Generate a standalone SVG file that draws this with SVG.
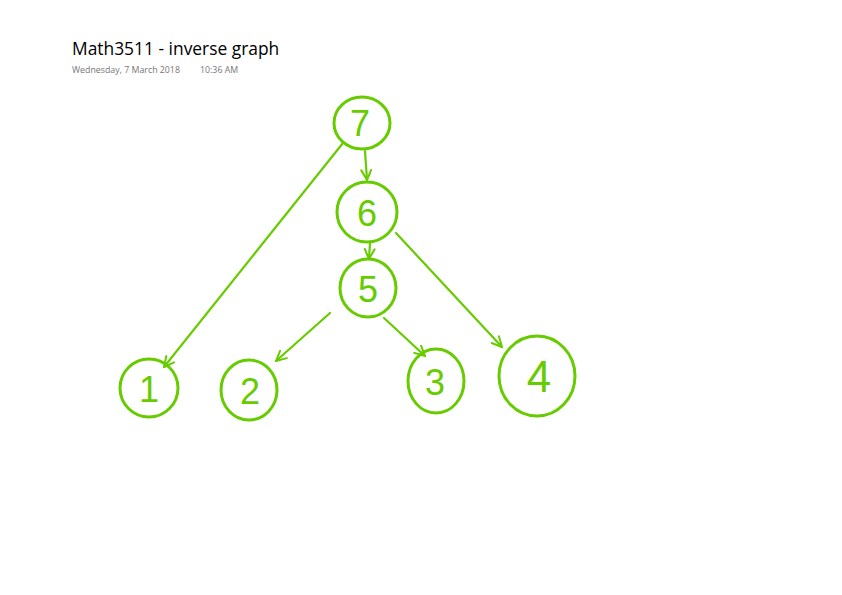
<svg xmlns="http://www.w3.org/2000/svg" width="842" height="595" viewBox="0 0 842 595">
<defs>
<style>
.ink{fill:none;stroke:#66cc00;stroke-width:3;stroke-linecap:round;stroke-linejoin:round}
.edge{fill:none;stroke:#66cc00;stroke-width:2.2;stroke-linecap:round}
.lbl{fill:#66cc00;font-family:"Liberation Sans","DejaVu Sans",sans-serif;font-size:36px;text-anchor:middle;font-weight:normal}
.title{font-family:"Open Sans","Liberation Sans",sans-serif;font-size:17.4px;fill:#000}
.meta{font-family:"Open Sans","Liberation Sans",sans-serif;font-size:8.8px;fill:#767676}
</style>
<marker id="arr" viewBox="0 0 12 12" refX="11" refY="6" markerWidth="12" markerHeight="12" markerUnits="userSpaceOnUse" orient="auto">
<path d="M1,1 L11,6 L1,11" fill="none" stroke="#66cc00" stroke-width="2" stroke-linecap="round" stroke-linejoin="round"/>
</marker>
</defs>
<rect width="842" height="595" fill="#fff"/>
<text class="title" x="72" y="55">Math3511 - inverse graph</text>
<text class="meta" x="72" y="73">Wednesday, 7 March 2018</text>
<text class="meta" x="200" y="73">10:36 AM</text>
<g id="connectors">
<path class="edge" d="M365,151 L367,180" marker-end="url(#arr)"/>
<path class="edge" d="M343,143 L164,367" marker-end="url(#arr)"/>
<path class="edge" d="M370,243 L369,259" marker-end="url(#arr)"/>
<path class="edge" d="M396,233 Q440,280 502,347" marker-end="url(#arr)"/>
<path class="edge" d="M330,313 L276,361" marker-end="url(#arr)"/>
<path class="edge" d="M384,318 L425,356" marker-end="url(#arr)"/>
</g>
<g id="n7"><ellipse class="ink" cx="362" cy="123" rx="28" ry="26"/><text class="lbl" x="360" y="136">7</text></g>
<g id="n6"><ellipse class="ink" cx="367" cy="212" rx="30" ry="30"/><text class="lbl" x="367" y="226">6</text></g>
<g id="n5"><ellipse class="ink" cx="368" cy="288" rx="28" ry="29"/><text class="lbl" x="368" y="302">5</text></g>
<g id="n1"><ellipse class="ink" cx="149" cy="388" rx="29" ry="29"/><text class="lbl" x="149" y="402">1</text></g>
<g id="n2"><ellipse class="ink" cx="249" cy="390" rx="28" ry="30"/><text class="lbl" x="250" y="404">2</text></g>
<g id="n3"><ellipse class="ink" cx="436" cy="381" rx="28" ry="32"/><text class="lbl" x="435" y="395">3</text></g>
<g id="n4"><ellipse class="ink" cx="537" cy="376" rx="38" ry="40"/><text class="lbl" x="539" y="392" style="font-size:44px">4</text></g>
</svg>
